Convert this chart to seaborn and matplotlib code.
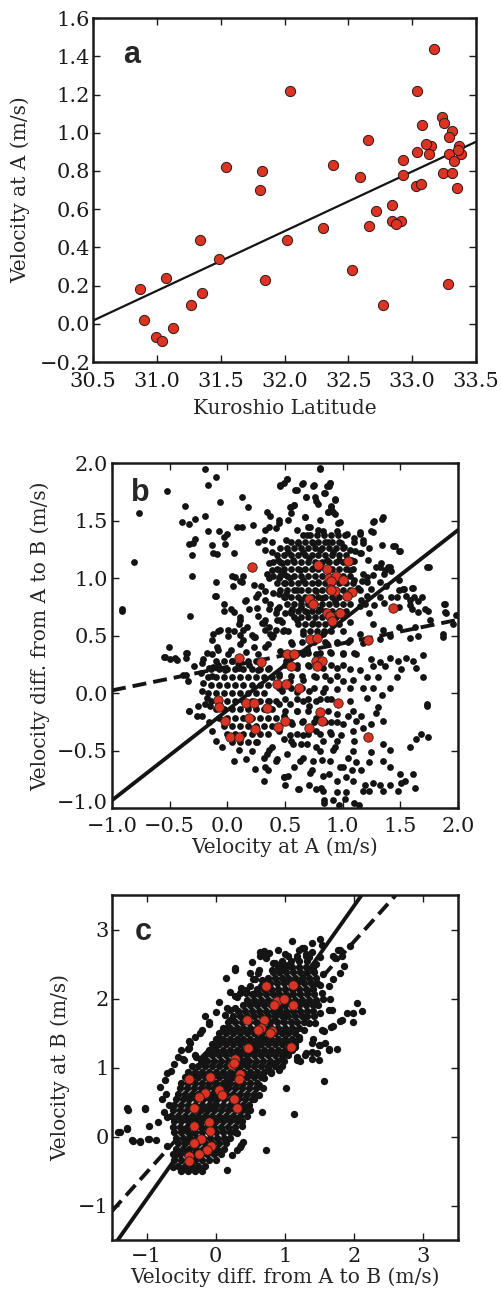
import matplotlib
matplotlib.use("Agg")
import matplotlib.pyplot as plt
import matplotlib.transforms as mtransforms
import seaborn as sns
import pandas as pd

# ---------------- data ----------------
# panel a : Kuroshio latitude vs velocity at A
a_lat = [31.54, 31.82, 31.81, 32.04, 32.38, 32.65, 32.59, 33.17, 33.04, 33.23, 33.25, 33.31,
         33.08, 33.29, 33.37, 33.15, 33.11, 33.04, 33.13, 32.93, 32.93, 33.29, 33.33, 33.38,
         33.36, 33.24, 33.31, 33.03, 33.07, 33.35, 32.84, 32.72, 32.66, 32.84, 32.91, 32.87,
         32.30, 32.02, 31.34, 31.49, 32.53, 31.85, 31.07, 30.87, 31.35, 31.27, 32.77, 33.28,
         30.90, 30.99, 31.04, 31.13]
a_vel = [0.82, 0.80, 0.70, 1.22, 0.83, 0.96, 0.77, 1.44, 1.22, 1.08, 1.05, 1.01,
         1.04, 0.98, 0.93, 0.93, 0.94, 0.90, 0.89, 0.86, 0.78, 0.89, 0.85, 0.89,
         0.91, 0.79, 0.79, 0.72, 0.73, 0.71, 0.62, 0.59, 0.51, 0.54, 0.54, 0.52,
         0.50, 0.44, 0.44, 0.34, 0.28, 0.23, 0.24, 0.18, 0.16, 0.10, 0.10, 0.21,
         0.02, -0.07, -0.09, -0.02]
a_fit_x = [30.5, 33.5]
a_fit_y = [0.017, 0.953]

# panel b : velocity at A vs velocity difference A->B
b_red = [(0.73, 0.78), (1.44, 0.74), (0.86, 0.70), (0.89, 0.67), (0.98, 0.70), (0.91, 0.63),
         (1.22, 0.46), (0.72, 0.47), (0.78, 0.48), (0.10, 0.31), (0.29, 0.27), (0.52, 0.34),
         (0.58, 0.34), (0.55, 0.24), (0.77, 0.28), (0.82, 0.28), (0.78, 0.24), (0.43, 0.08),
         (0.51, 0.08), (0.62, 0.05), (-0.08, -0.06), (-0.07, -0.12), (0.16, -0.08), (0.23, -0.08),
         (0.34, -0.13), (0.96, -0.08), (0.80, -0.16), (-0.02, -0.24), (0.19, -0.21), (0.24, -0.31),
         (0.44, -0.29), (0.50, -0.24), (0.71, -0.30), (0.82, -0.24), (0.02, -0.38), (0.10, -0.38),
         (1.22, -0.38), (0.21, 1.10), (0.79, 1.12), (0.86, 1.08), (1.05, 1.15), (0.88, 1.00),
         (0.94, 1.02), (0.90, 0.98), (1.00, 0.99), (0.89, 0.91), (0.93, 0.89), (0.90, 0.90),
         (1.08, 0.88), (1.04, 0.85), (0.71, 0.82), (0.74, 0.78)]

b_black_pts = [
    (-0.19, 1.95), (-0.10, 1.88), (-0.17, 1.81), (-0.52, 1.76), (-0.77, 1.57), (-0.37, 1.63),
    (-0.06, 1.66), (0.13, 1.71), (0.18, 1.62), (-0.39, 1.49), (-0.33, 1.47), (-0.28, 1.52),
    (-0.19, 1.54), (0.08, 1.45), (0.22, 1.46), (-0.17, 1.41), (-0.07, 1.41), (0.00, 1.39),
    (-0.03, 1.36), (-0.28, 1.34), (-0.30, 1.31), (-0.33, 1.30), (-0.13, 1.29), (-0.02, 1.30),
    (-0.12, 1.22), (-0.09, 1.21), (-0.31, 1.20), (0.06, 1.22), (-0.81, 1.14), (-0.31, 1.02),
    (-0.10, 0.97), (0.04, 1.02), (0.11, 0.98), (0.14, 1.02), (-0.11, 0.85), (-0.91, 0.73),
    (-0.32, 0.67), (-0.03, 0.78), (0.03, 0.73), (-0.03, 0.72), (0.15, 0.80), (0.19, 0.73),
    (0.25, 0.84), (0.26, 0.74), (-0.08, 0.54), (0.01, 0.55), (0.10, 0.60), (0.14, 0.55),
    (0.11, 0.51), (0.21, 0.51), (0.27, 0.67), (0.33, 0.64), (0.36, 0.73), (0.42, 0.70),
    (0.42, 0.55), (0.46, 0.64), (0.33, 0.55),
    (0.34, 1.58), (0.37, 1.54), (0.45, 1.48), (0.36, 1.45), (0.42, 1.44), (0.33, 1.42),
    (0.27, 1.32), (0.32, 1.33), (0.39, 1.32), (0.33, 1.25), (0.39, 1.23), (0.44, 1.16),
    (0.47, 1.13), (0.36, 1.13), (0.34, 1.04), (0.39, 1.07), (0.45, 1.07), (0.49, 1.04),
    (0.36, 1.00), (0.45, 1.00), (0.50, 0.96), (0.29, 0.93), (0.27, 0.86), (0.33, 0.89),
    (0.40, 0.87), (0.45, 0.86), (0.50, 0.84), (0.33, 0.81), (0.37, 0.78), (0.43, 0.73),
    (0.50, 0.70), (0.30, 0.61), (0.36, 0.58), (0.40, 0.51), (0.47, 0.62), (0.49, 0.55),
    (0.46, 1.80), (0.49, 1.83),
    (0.80, 1.95), (0.52, 1.86), (0.46, 1.81), (0.60, 1.77), (0.66, 1.83), (0.75, 1.81),
    (0.89, 1.83), (0.88, 1.80), (0.85, 1.74), (0.93, 1.68), (0.68, 1.71), (0.77, 1.67),
    (0.55, 1.62), (0.58, 1.64), (0.55, 1.57), (0.90, 1.63), (0.91, 1.59), (0.93, 1.56),
    (0.87, 1.58), (0.98, 1.49), (0.67, 1.53), (0.45, 1.51), (0.72, 1.45), (0.79, 1.42),
    (1.27, 1.50), (1.35, 1.53), (1.26, 1.40), (1.15, 1.40), (1.10, 1.35), (1.18, 1.33),
    (1.04, 1.39), (1.45, 1.28), (1.50, 1.24), (1.75, 1.10), (1.33, 1.13), (1.39, 1.10),
    (1.29, 1.10), (1.36, 1.04), (1.42, 1.06), (1.53, 0.91), (1.61, 0.92), (1.49, 0.90),
    (1.55, 0.85), (1.62, 0.84), (1.69, 0.84), (1.88, 0.78), (1.90, 0.70), (1.98, 0.68),
    (1.74, 0.72), (1.65, 0.71), (1.58, 0.77), (1.49, 0.75), (1.21, 1.01), (1.17, 0.98),
    (1.13, 0.92), (1.21, 0.85), (1.19, 0.78), (1.27, 0.77), (1.36, 0.79), (1.42, 0.84),
    (1.16, 1.22), (1.23, 1.26), (1.11, 1.24), (1.01, 1.27), (1.07, 1.16), (0.13, 1.45),
    (0.07, 1.01), (0.13, 0.97), (0.05, 0.93), (-0.10, 0.85), (0.16, 0.81), (0.23, 0.94),
    (0.06, 0.71), (0.11, 0.66),
    (0.80, 1.96), (0.52, 1.86), (0.59, 1.77), (0.65, 1.82), (0.74, 1.80), (0.86, 1.80),
    (0.89, 1.83), (0.68, 1.71), (0.76, 1.71), (0.84, 1.74), (0.93, 1.69), (0.79, 1.65),
    (0.54, 1.62), (0.58, 1.64), (0.90, 1.62), (0.92, 1.58), (0.87, 1.58), (0.67, 1.53),
    (0.80, 1.51), (0.96, 1.48), (1.26, 1.49), (1.34, 1.52), (0.53, 1.51), (0.60, 1.42),
    (0.70, 1.45), (0.69, 1.38), (0.83, 1.41), (0.95, 1.41), (1.02, 1.38), (1.15, 1.39),
    (1.25, 1.41), (0.51, 1.33), (0.61, 1.31), (0.74, 1.31), (0.87, 1.32), (0.99, 1.31),
    (1.10, 1.32), (1.18, 1.31), (1.34, 1.29), (1.44, 1.28), (1.49, 1.24), (0.53, 1.23),
    (0.66, 1.23), (0.80, 1.25), (0.92, 1.23), (1.06, 1.25), (1.15, 1.22), (1.22, 1.16),
    (0.57, 1.16), (0.71, 1.18), (0.86, 1.16), (0.97, 1.16), (1.10, 1.15), (1.32, 1.10),
    (1.41, 1.10), (1.37, 1.07), (1.73, 1.10), (0.48, 1.07), (0.63, 1.07), (0.74, 1.09),
    (1.06, 1.07), (1.18, 1.04), (1.26, 1.03), (0.54, 1.00), (0.66, 0.99), (0.79, 0.97),
    (1.10, 0.99), (1.21, 0.97), (1.32, 0.97), (1.49, 0.99), (1.38, 0.93), (0.60, 0.90),
    (0.77, 0.89), (1.15, 0.90), (1.25, 0.91), (1.52, 0.91), (1.60, 0.92), (0.51, 0.86),
    (0.64, 0.81), (0.82, 0.83), (0.93, 0.80), (1.16, 0.81), (1.32, 0.84), (1.47, 0.84),
    (1.58, 0.81), (1.65, 0.80), (1.89, 0.78), (0.56, 0.73), (0.69, 0.71), (0.80, 0.73),
    (1.15, 0.76), (1.23, 0.70), (1.60, 0.73), (1.71, 0.73), (1.89, 0.71), (0.60, 0.64),
    (0.74, 0.61), (0.92, 0.62), (1.06, 0.62), (1.26, 0.60), (1.49, 0.58), (1.63, 0.58),
    (1.76, 0.64), (1.96, 0.60), (0.53, 0.54), (0.66, 0.52), (0.83, 0.52), (1.00, 0.54),
    (1.15, 0.52), (1.35, 0.55), (1.87, 0.52),
    (-0.51, 0.40), (-0.54, 0.32), (-0.45, 0.31), (-0.36, 0.31), (-0.36, 0.35), (-0.29, 0.24),
    (-0.38, 0.16), (-0.23, 0.18), (-0.34, 0.11), (-0.21, 0.09), (-0.13, 0.15), (-0.22, 0.02),
    (-0.25, -0.11), (-0.26, -0.20), (-0.22, -0.20), (-0.33, -0.15), (-0.18, -0.04), (-0.15, -0.11),
    (-0.16, -0.25), (-0.13, -0.33), (-0.10, -0.41), (-0.05, -0.47), (0.06, -0.59), (0.16, -0.57),
    (0.24, -0.66), (0.32, -0.76), (0.49, -0.73), (0.33, -0.64), (0.34, -0.53), (0.42, -0.59),
    (-0.13, 0.46), (-0.08, 0.38), (0.01, 0.50), (0.14, 0.46), (0.24, 0.49), (0.33, 0.40),
    (0.39, 0.49), (0.46, 0.37), (-0.16, 0.22), (-0.08, 0.25), (-0.02, 0.20), (0.04, 0.28),
    (0.10, 0.22), (0.19, 0.25), (0.27, 0.20), (0.36, 0.22), (0.45, 0.17), (0.47, 0.02),
    (0.36, -0.07), (0.45, -0.09), (-0.19, -0.09), (0.49, -0.20), (0.45, -0.33), (0.49, -0.40),
    (0.10, -0.49), (0.21, -0.50), (0.36, -0.49), (0.01, 0.34), (0.16, 0.36), (0.27, 0.34),
    (-0.21, 0.30), (-0.13, 0.34), (-0.55, 0.32), (-0.50, 0.30), (-0.44, 0.29), (-0.36, 0.16),
    (-0.33, -0.15), (-0.12, 0.52), (-0.06, 0.55), (0.06, 0.54), (0.11, 0.64), (0.17, 0.58),
    (0.23, 0.49), (0.32, 0.61), (0.37, 0.52), (0.43, 0.64), (0.48, 0.54), (0.35, 0.43),
    (0.23, 0.40), (0.11, 0.43), (0.03, 0.38), (-0.09, 0.40), (-0.18, 0.35), (-0.22, 0.26),
    (-0.12, 0.23), (0.45, 0.75), (0.55, 0.70), (0.64, 0.75),
    (1.58, 0.48), (1.65, 0.50), (1.87, 0.49), (1.70, 0.33), (1.61, 0.28), (1.55, 0.31),
    (1.48, 0.28), (1.41, 0.31), (1.51, 0.21), (1.64, 0.22), (1.70, 0.14), (1.32, 0.27),
    (1.26, 0.24), (1.37, 0.24), (1.31, 0.14), (1.47, 0.14), (1.41, 0.05), (1.34, -0.01),
    (1.26, 0.05), (1.18, 0.05), (1.21, -0.04), (1.73, -0.09), (1.73, -0.11), (1.31, -0.12),
    (1.29, -0.17), (1.35, -0.24), (1.25, -0.27), (1.18, -0.30), (1.12, -0.24), (1.16, -0.20),
    (1.09, -0.15), (1.05, -0.20), (1.68, -0.35), (1.74, -0.38), (1.64, -0.40), (1.58, -0.47),
    (1.35, -0.44), (1.41, -0.49), (1.25, -0.51), (1.10, -0.41), (1.09, -0.50), (1.05, -0.56),
    (1.12, -0.60), (1.23, -0.60), (1.35, -0.59), (1.41, -0.64), (1.16, -0.67), (1.08, -0.67),
    (1.00, -0.64), (1.03, -0.73), (1.09, -0.76), (1.19, -0.80), (1.26, -0.78), (1.18, -0.85),
    (1.23, -0.85), (1.32, -0.80), (1.35, -0.85), (1.41, -0.80), (1.50, -0.70), (1.51, -0.78),
    (1.54, -0.76), (1.61, -0.70), (1.63, -0.82), (1.48, -0.85), (0.95, -0.76), (0.83, -0.72),
    (0.77, -0.83), (0.73, -0.67), (0.61, -0.83), (0.71, -0.80), (0.84, -0.93), (0.92, -0.93),
    (1.02, -0.92), (1.03, -0.86), (1.10, -0.95), (0.83, -0.85), (0.53, -0.72), (0.50, -0.80),
    (0.63, -0.59), (0.74, -0.59), (0.89, -0.59), (0.80, -0.50), (0.92, -0.49), (0.69, -0.44),
    (0.57, -0.44), (0.83, -0.41), (0.95, -0.41), (0.66, -0.36), (0.77, -0.33), (0.89, -0.34),
    (0.99, -0.36), (0.54, -0.36), (0.56, -0.27), (0.66, -0.24), (0.77, -0.21), (0.90, -0.25),
    (1.00, -0.27), (1.09, -0.33), (0.60, -0.15), (0.71, -0.11), (0.87, -0.15), (0.95, -0.18),
    (0.54, -0.09), (0.66, -0.07), (0.77, -0.07), (0.86, -0.05), (1.06, -0.07), (0.60, 0.01),
    (0.71, 0.02), (0.83, 0.01), (0.95, 0.04), (1.06, 0.05), (1.09, 0.12), (1.00, 0.11),
    (0.54, 0.11), (0.66, 0.12), (0.77, 0.14), (0.89, 0.12), (1.21, 0.14), (1.15, 0.20),
    (1.06, 0.21), (0.95, 0.22), (0.83, 0.22), (0.71, 0.24), (0.60, 0.22), (0.51, 0.28),
    (0.66, 0.34), (0.77, 0.34), (0.89, 0.36), (1.00, 0.34), (1.12, 0.34), (1.25, 0.30),
    (0.95, 0.44), (1.06, 0.46), (1.18, 0.44), (1.32, 0.47), (1.41, 0.50), (0.74, 0.46),
    (0.86, 0.43), (0.56, 0.43), (0.84, -0.95), (0.97, -0.97), (1.14, -0.97),
    (0.32, -0.56), (0.35, -0.67), (0.43, -0.57), (0.49, -0.73), (0.52, -0.53), (0.58, -0.64),
    (0.62, -0.83), (0.66, -0.56), (0.72, -0.69), (0.77, -0.47), (0.81, -0.82), (0.82, -0.58),
    (0.88, -0.70), (0.93, -0.47), (0.95, -0.86), (0.98, -0.64), (0.26, -0.42), (0.39, -0.47),
    (0.55, -0.41), (0.64, -0.44), (-0.91, 0.72), (-0.35, 0.35),
]

b_core_rows = [
    (1.38, [0.66, 0.72, 0.78, 0.84, 0.90, 0.96]),
    (1.32, [0.55, 0.61, 0.67, 0.73, 0.79, 0.85, 0.91, 0.97]),
    (1.26, [0.46, 0.52, 0.58, 0.64, 0.70, 0.76, 0.82, 0.88, 0.94, 1.00]),
    (1.20, [0.43, 0.49, 0.55, 0.61, 0.67, 0.73, 0.79, 0.85, 0.91, 0.97, 1.03]),
    (1.14, [0.40, 0.46, 0.52, 0.58, 0.64, 0.70, 0.76, 0.82, 0.88, 0.94, 1.00, 1.06]),
    (1.08, [0.43, 0.49, 0.55, 0.61, 0.67, 0.73, 0.79, 0.85, 0.91, 0.97, 1.03, 1.09]),
    (1.02, [0.40, 0.46, 0.52, 0.58, 0.64, 0.70, 0.76, 0.82, 0.88, 0.94, 1.00, 1.06]),
    (0.96, [0.43, 0.49, 0.55, 0.61, 0.67, 0.73, 0.79, 0.85, 0.91, 0.97, 1.03, 1.09]),
    (0.90, [0.46, 0.52, 0.58, 0.64, 0.70, 0.76, 0.82, 0.88, 0.94, 1.00, 1.06]),
    (0.84, [0.49, 0.55, 0.61, 0.67, 0.73, 0.79, 0.85, 0.91, 0.97, 1.03]),
    (0.78, [0.52, 0.58, 0.64, 0.70, 0.76, 0.82, 0.88, 0.94, 1.00, 1.06]),
    (0.72, [0.55, 0.61, 0.67, 0.73, 0.79, 0.85, 0.91, 0.97, 1.03]),
    (0.66, [0.58, 0.64, 0.70, 0.76, 0.82, 0.88, 0.94, 1.00]),
    (0.60, [0.61, 0.67, 0.73, 0.79, 0.85, 0.91, 0.97]),
    (0.54, [0.66, 0.72, 0.78, 0.84, 0.90]),
    (0.28, [-0.10, -0.03, 0.04, 0.11, 0.18, 0.25]),
    (0.21, [-0.14, -0.07, 0.00, 0.07, 0.14, 0.21, 0.28, 0.35]),
    (0.14, [-0.17, -0.10, -0.03, 0.04, 0.11, 0.18, 0.25, 0.32, 0.39]),
    (0.07, [-0.14, -0.07, 0.00, 0.07, 0.14, 0.21, 0.28, 0.35]),
    (0.00, [-0.17, -0.10, -0.03, 0.04, 0.11, 0.18, 0.25, 0.32]),
    (-0.07, [-0.14, -0.07, 0.00, 0.07, 0.14, 0.21, 0.28, 0.35, 0.42]),
    (-0.14, [-0.10, -0.03, 0.04, 0.11, 0.18, 0.25, 0.32, 0.39]),
    (-0.21, [-0.07, 0.00, 0.07, 0.14, 0.21, 0.28, 0.35, 0.42]),
    (-0.28, [-0.03, 0.04, 0.11, 0.18, 0.25, 0.32, 0.39]),
    (-0.35, [0.00, 0.07, 0.14, 0.21, 0.28, 0.35]),
    (-0.42, [0.04, 0.11, 0.18, 0.25]),
    (0.45, [0.55, 0.65, 0.75, 0.85, 0.95, 1.05]),
    (0.35, [0.50, 0.60, 0.70, 0.80, 0.90, 1.00, 1.10]),
    (0.25, [0.50, 0.60, 0.70, 0.80, 0.90, 1.00]),
    (0.15, [0.45, 0.55, 0.65, 0.75, 0.85, 0.95]),
    (0.05, [0.45, 0.55, 0.65, 0.75, 0.85]),
    (-0.05, [0.50, 0.60, 0.70, 0.80, 0.90]),
    (-0.15, [0.50, 0.60, 0.70, 0.80]),
    (-0.25, [0.55, 0.65, 0.75, 0.85, 0.95]),
    (-0.35, [0.60, 0.70, 0.80, 0.90]),
]
b_solid_x = [-1.0, 2.0]
b_solid_y = [-0.93, 1.42]
b_dash_x = [-1.0, 2.0]
b_dash_y = [0.026, 0.64]

# panel c : velocity difference A->B vs velocity at B
c_red = [(0.73, 2.18), (1.12, 2.20), (0.88, 1.96), (0.84, 1.90), (0.98, 2.00), (1.11, 1.91),
         (0.45, 1.69), (0.70, 1.69), (0.65, 1.57), (0.61, 1.54), (0.81, 1.53), (0.78, 1.50),
         (1.09, 1.30), (0.46, 1.28), (0.28, 1.12), (0.24, 1.04), (0.27, 1.07), (0.35, 0.90),
         (0.33, 0.84), (-0.38, 0.84), (-0.09, 0.87), (0.04, 0.67), (0.09, 0.60), (0.26, 0.55),
         (0.31, 0.42), (-0.15, 0.63), (-0.24, 0.58), (-0.31, 0.41), (-0.10, 0.21), (-0.09, 0.08),
         (-0.31, 0.16), (-0.22, -0.03), (-0.32, -0.09), (-0.07, -0.14), (-0.12, -0.19),
         (-0.24, -0.26), (-0.38, -0.28), (-0.38, -0.36)]

c_black_pts = [
    (1.10, 2.84), (1.27, 2.73), (1.39, 2.67), (1.51, 2.87), (1.54, 2.78), (1.70, 2.62),
    (1.80, 2.70), (0.69, 2.67), (0.77, 2.66), (0.52, 2.53), (0.64, 2.61), (0.86, 2.51),
    (0.96, 2.53), (1.05, 2.49), (0.81, 2.41), (0.62, 2.41), (0.28, 2.42), (0.49, 2.37),
    (0.57, 2.29), (0.67, 2.27), (0.36, 2.15), (0.57, 2.08), (0.43, 2.08), (0.31, 2.02),
    (-0.10, 1.63), (0.16, 1.86), (0.28, 1.87), (0.14, 1.76), (0.21, 1.69), (-0.37, 1.35),
    (-0.39, 1.28), (-0.01, 1.30), (1.68, 1.83), (1.82, 1.69), (1.66, 1.59), (1.54, 1.54),
    (1.39, 1.35), (1.49, 1.33), (1.58, 1.35),
    (1.39, 2.81), (1.94, 2.76), (1.77, 2.70), (1.82, 2.61), (1.73, 2.59), (1.85, 2.47),
    (1.80, 2.37), (1.70, 2.28), (1.63, 2.18), (1.53, 2.08), (1.65, 1.99), (2.04, 1.94),
    (2.11, 1.82), (1.99, 1.79), (1.89, 1.79), (1.80, 1.67), (1.99, 1.66), (1.70, 1.60),
    (1.63, 1.83), (1.51, 1.79), (1.44, 1.65), (1.56, 1.53), (1.75, 1.27), (1.63, 1.27),
    (1.51, 1.33), (1.41, 1.41), (1.31, 1.21), (1.17, 1.16), (1.22, 1.09), (1.39, 1.12),
    (1.46, 1.21), (0.28, 2.44), (0.50, 2.18), (0.61, 2.37), (-0.10, 1.66), (-0.23, 1.50),
    (-0.38, 1.38), (-0.40, 1.27), (-0.48, 1.13), (-0.28, 1.16), (-0.13, 1.21), (0.03, 1.43),
    (0.16, 1.58), (0.20, 1.84), (0.28, 2.03), (0.35, 2.08), (0.44, 2.13), (0.54, 2.28),
    (0.66, 2.18), (0.73, 2.59), (0.64, 2.67), (0.69, 2.69), (0.83, 2.52), (0.98, 2.49),
    (0.93, 2.40), (1.07, 2.47), (1.17, 2.59), (1.24, 2.73), (1.31, 2.64), (1.41, 2.44),
    (-1.28, 0.41), (-1.02, 0.41), (-1.38, 0.07), (-1.28, 0.12), (-1.21, -0.05), (-1.09, -0.08),
    (-0.97, -0.03), (-0.87, -0.05), (-0.97, 0.16), (-0.83, 0.21), (-0.71, 0.92), (-0.46, 1.11),
    (-0.30, 1.18), (-0.18, 1.16), (-0.73, 0.82), (1.13, 0.32), (0.72, -0.20), (0.67, 0.35),
    (1.01, 0.70), (0.62, 0.75), (1.56, 0.80), (1.17, 1.11), (1.29, 1.18), (1.39, 1.23),
    (1.49, 1.11), (1.63, 1.25), (0.91, 0.96), (0.76, 1.01), (0.36, -0.12), (0.40, -0.08),
    (0.23, -0.27), (0.16, -0.49), (-1.42, 0.06), (-1.29, 0.11), (-1.27, 0.38), (-1.03, 0.40),
    (-1.20, -0.06), (-1.10, -0.06), (-0.98, -0.03), (-0.71, -0.13), (-0.62, -0.44), (-0.50, -0.49),
    (0.35, -0.15), (0.30, -0.20),
    (-0.78, 0.55), (-0.72, 0.62), (-0.80, 0.72), (-0.68, 0.45), (-0.75, 0.35), (-0.70, 0.28),
    (0.30, 0.05), (0.38, 0.15), (0.45, 0.30), (0.50, 0.38), (0.55, 0.55), (0.62, 0.60),
    (0.68, 0.70), (0.70, 0.85), (0.80, 0.92), (0.85, 1.05), (0.95, 1.12), (1.05, 1.25),
    (1.15, 1.30), (1.20, 1.45), (1.28, 1.55), (1.35, 1.65), (1.42, 1.75), (1.48, 1.90),
    (1.55, 2.00), (1.50, 2.20), (1.55, 2.35), (1.45, 2.50), (1.50, 2.60), (1.35, 2.60),
    (1.20, 2.70), (1.00, 2.65), (0.90, 2.70), (0.15, 2.30), (0.20, 2.10), (0.05, 1.95),
    (0.00, 1.80), (-0.15, 1.75), (-0.20, 1.55), (-0.30, 1.45), (-0.50, 1.25), (-0.60, 1.05),
    (-0.65, 0.95), (-0.55, 1.15),
]

c_core_rows = [
    (-0.50, [-0.50, -0.40, -0.30, -0.20]),
    (-0.42, [-0.55, -0.45, -0.35, -0.25, -0.15]),
    (-0.34, [-0.60, -0.50, -0.40, -0.30, -0.20, -0.10, 0.00]),
    (-0.26, [-0.62, -0.52, -0.42, -0.32, -0.22, -0.12, -0.02, 0.08]),
    (-0.18, [-0.58, -0.48, -0.38, -0.28, -0.18, -0.08, 0.02, 0.12]),
    (-0.10, [-0.55, -0.45, -0.35, -0.25, -0.15, -0.05, 0.05, 0.15]),
    (-0.02, [-0.58, -0.48, -0.38, -0.28, -0.18, -0.08, 0.02, 0.12, 0.20]),
    (0.06, [-0.60, -0.50, -0.40, -0.30, -0.20, -0.10, 0.00, 0.10, 0.20, 0.28]),
    (0.14, [-0.62, -0.52, -0.42, -0.32, -0.22, -0.12, -0.02, 0.08, 0.18, 0.28]),
    (0.22, [-0.60, -0.50, -0.40, -0.30, -0.20, -0.10, 0.00, 0.10, 0.20, 0.30, 0.38]),
    (0.30, [-0.65, -0.55, -0.45, -0.35, -0.25, -0.15, -0.05, 0.05, 0.15, 0.25, 0.35]),
    (0.38, [-0.62, -0.52, -0.42, -0.32, -0.22, -0.12, -0.02, 0.08, 0.18, 0.28, 0.38, 0.45]),
    (0.46, [-0.60, -0.50, -0.40, -0.30, -0.20, -0.10, 0.00, 0.10, 0.20, 0.30, 0.40, 0.48]),
    (0.54, [-0.58, -0.48, -0.38, -0.28, -0.18, -0.08, 0.02, 0.12, 0.22, 0.32, 0.42, 0.52]),
    (0.62, [-0.55, -0.45, -0.35, -0.25, -0.15, -0.05, 0.05, 0.15, 0.25, 0.35, 0.45, 0.55]),
    (0.70, [-0.52, -0.42, -0.32, -0.22, -0.12, -0.02, 0.08, 0.18, 0.28, 0.38, 0.48, 0.58]),
    (0.78, [-0.50, -0.40, -0.30, -0.20, -0.10, 0.00, 0.10, 0.20, 0.30, 0.40, 0.50, 0.60]),
    (0.86, [-0.45, -0.35, -0.25, -0.15, -0.05, 0.05, 0.15, 0.25, 0.35, 0.45, 0.55, 0.65]),
    (0.94, [-0.40, -0.30, -0.20, -0.10, 0.00, 0.10, 0.20, 0.30, 0.40, 0.50, 0.60, 0.70, 0.80]),
    (1.02, [-0.35, -0.25, -0.15, -0.05, 0.05, 0.15, 0.25, 0.35, 0.45, 0.55, 0.65, 0.75, 0.85, 0.95]),
    (1.10, [-0.22, -0.12, -0.02, 0.08, 0.18, 0.28, 0.38, 0.48, 0.58, 0.68, 0.78, 0.88, 0.98]),
    (1.18, [-0.15, -0.05, 0.05, 0.15, 0.25, 0.35, 0.45, 0.55, 0.65, 0.75, 0.85, 0.95, 1.05]),
    (1.26, [-0.10, 0.00, 0.10, 0.20, 0.30, 0.40, 0.50, 0.60, 0.70, 0.80, 0.90, 1.00, 1.10]),
    (1.34, [-0.05, 0.05, 0.15, 0.25, 0.35, 0.45, 0.55, 0.65, 0.75, 0.85, 0.95, 1.05, 1.15]),
    (1.42, [0.00, 0.10, 0.20, 0.30, 0.40, 0.50, 0.60, 0.70, 0.80, 0.90, 1.00, 1.10, 1.20]),
    (1.50, [0.05, 0.15, 0.25, 0.35, 0.45, 0.55, 0.65, 0.75, 0.85, 0.95, 1.05, 1.15]),
    (1.58, [0.10, 0.20, 0.30, 0.40, 0.50, 0.60, 0.70, 0.80, 0.90, 1.00, 1.10, 1.20]),
    (1.66, [0.18, 0.28, 0.38, 0.48, 0.58, 0.68, 0.78, 0.88, 0.98, 1.08, 1.18, 1.28]),
    (1.74, [0.25, 0.35, 0.45, 0.55, 0.65, 0.75, 0.85, 0.95, 1.05, 1.15, 1.25, 1.32]),
    (1.82, [0.32, 0.42, 0.52, 0.62, 0.72, 0.82, 0.92, 1.02, 1.12, 1.22, 1.32, 1.40]),
    (1.90, [0.40, 0.50, 0.60, 0.70, 0.80, 0.90, 1.00, 1.10, 1.20, 1.30, 1.40]),
    (1.98, [0.45, 0.55, 0.65, 0.75, 0.85, 0.95, 1.05, 1.15, 1.25, 1.35, 1.45]),
    (2.06, [0.52, 0.62, 0.72, 0.82, 0.92, 1.02, 1.12, 1.22, 1.32, 1.42]),
    (2.14, [0.60, 0.70, 0.80, 0.90, 1.00, 1.10, 1.20, 1.30, 1.40]),
    (2.22, [0.68, 0.78, 0.88, 0.98, 1.08, 1.18, 1.28, 1.38, 1.46]),
    (2.30, [0.75, 0.85, 0.95, 1.05, 1.15, 1.25, 1.35, 1.45]),
    (2.38, [0.82, 0.92, 1.02, 1.12, 1.22, 1.32, 1.42]),
    (2.46, [0.90, 1.00, 1.10, 1.20, 1.30, 1.40]),
    (2.54, [0.95, 1.08, 1.20, 1.32]),
    (2.62, [1.05, 1.18, 1.30]),
]
c_solid_x = [-1.6, 2.2]
c_solid_y = [-1.76, 3.63]
c_dash_x = [-1.5, 2.7]
c_dash_y = [-1.08, 3.61]

a_xticks = [30.5, 31.0, 31.5, 32.0, 32.5, 33.0, 33.5]
a_yticks = [-0.2, 0.0, 0.2, 0.4, 0.6, 0.8, 1.0, 1.2, 1.4, 1.6]
b_ticks = [-1.0, -0.5, 0.0, 0.5, 1.0, 1.5, 2.0]
c_ticks = [-1, 0, 1, 2, 3]


# ---------------- helpers ----------------
def pts_frame(pts, rows=()):
    xs = [p[0] for p in pts] + [x for y, xl in rows for x in xl]
    ys = [p[1] for p in pts] + [y for y, xl in rows for x in xl]
    return pd.DataFrame({"x": xs, "y": ys})


sns.set_style("ticks")
plt.rcParams['font.family'] = ['DejaVu Serif']
plt.rcParams['axes.unicode_minus'] = True

RED = '#dd3322'
BLACK = '#141414'
LETTER_FONT = ['Liberation Sans', 'DejaVu Sans']
TICK_FS = 15
LABEL_FS = 14.5

fig = plt.figure(figsize=(5.02, 12.94), dpi=100)
ax_a = fig.add_axes([0.1853, 0.7202, 0.763, 0.2658])
ax_b = fig.add_axes([0.2231, 0.3753, 0.6892, 0.2666])
ax_c = fig.add_axes([0.2231, 0.0417, 0.6892, 0.2666])


def style(ax, xpad, ypad):
    for s in ax.spines.values():
        s.set_linewidth(1.8)
        s.set_color('#1a1a1a')
    ax.tick_params(direction='in', top=True, right=True, length=5, width=1.0,
                   labelsize=TICK_FS, colors='#1a1a1a')
    ax.tick_params(axis='x', pad=xpad)
    ax.tick_params(axis='y', pad=ypad)


# ---- panel a ----
df_a = pd.DataFrame({"lat": a_lat, "vel": a_vel})
sns.lineplot(x=a_fit_x, y=a_fit_y, ax=ax_a, color=BLACK, lw=1.6, zorder=2)
sns.scatterplot(data=df_a, x="lat", y="vel", ax=ax_a, color=RED, s=54,
                edgecolor='#2a1a1a', linewidth=0.7, zorder=3)
ax_a.set_xlim(30.5, 33.5)
ax_a.set_ylim(-0.2, 1.6)
ax_a.set_xticks(a_xticks)
ax_a.set_yticks(a_yticks)
ax_a.set_xticklabels([f"{t:.1f}" for t in a_xticks])
ax_a.set_yticklabels([f"{t:.1f}".replace('-', '\u2212') for t in a_yticks])
style(ax_a, 7, 2)
ax_a.set_xlabel("Kuroshio Latitude", fontsize=LABEL_FS)
ax_a.set_ylabel("Velocity at A (m/s)", fontsize=LABEL_FS)
ax_a.xaxis.set_label_coords(0.5, -0.108)
ax_a.yaxis.set_label_coords(-0.164, 0.5)
ax_a.text(0.078, 0.869, "a", transform=ax_a.transAxes, fontsize=22,
          fontweight='bold', family=LETTER_FONT, va='baseline', ha='left')

# ---- panel b ----
df_b = pts_frame(b_black_pts, b_core_rows)
df_b_red = pts_frame(b_red)
sns.scatterplot(data=df_b, x="x", y="y", ax=ax_b, color=BLACK, s=24,
                linewidth=0, zorder=1)
sns.lineplot(x=b_solid_x, y=b_solid_y, ax=ax_b, color=BLACK, lw=2.8, zorder=2)
sns.lineplot(x=b_dash_x, y=b_dash_y, ax=ax_b, color=BLACK, lw=2.8, zorder=2,
             linestyle=(0, (3.6, 1.8)))
sns.scatterplot(data=df_b_red, x="x", y="y", ax=ax_b, color=RED, s=46,
                edgecolor='#2a1a1a', linewidth=0.6, zorder=3)
ax_b.set_xlim(-1, 2)
ax_b.set_ylim(-1, 2)
ax_b.set_xticks(b_ticks)
ax_b.set_yticks(b_ticks)
ax_b.set_xticklabels([f"{t:.1f}".replace('-', '\u2212') for t in b_ticks])
ax_b.set_yticklabels([f"{t:.1f}".replace('-', '\u2212') for t in b_ticks])
style(ax_b, 6, 3)
ax_b.set_xlabel("Velocity at A (m/s)", fontsize=LABEL_FS)
ax_b.set_ylabel("Velocity diff. from A to B (m/s)", fontsize=LABEL_FS)
ax_b.xaxis.set_label_coords(0.5, -0.085)
ax_b.yaxis.set_label_coords(-0.179, 0.5)
ax_b.text(0.055, 0.891, "b", transform=ax_b.transAxes, fontsize=22,
          fontweight='bold', family=LETTER_FONT, va='baseline', ha='left')
# lift the lowest y tick label a little so it clears the x tick label below it
_lowest = ax_b.yaxis.get_major_ticks()[0].label1
_lowest.set_transform(_lowest.get_transform() +
                      mtransforms.ScaledTranslation(0, 0.07, fig.dpi_scale_trans))

# ---- panel c ----
df_c = pts_frame(c_black_pts, c_core_rows)
df_c_red = pts_frame(c_red)
sns.scatterplot(data=df_c, x="x", y="y", ax=ax_c, color=BLACK, s=28,
                linewidth=0, zorder=1)
sns.lineplot(x=c_solid_x, y=c_solid_y, ax=ax_c, color=BLACK, lw=2.8, zorder=2)
sns.lineplot(x=c_dash_x, y=c_dash_y, ax=ax_c, color=BLACK, lw=2.8, zorder=2,
             linestyle=(0, (3.6, 1.8)))
sns.scatterplot(data=df_c_red, x="x", y="y", ax=ax_c, color=RED, s=46,
                edgecolor='#2a1a1a', linewidth=0.6, zorder=3)
ax_c.set_xlim(-1.5, 3.5)
ax_c.set_ylim(-1.5, 3.5)
ax_c.set_xticks(c_ticks)
ax_c.set_yticks(c_ticks)
ax_c.set_xticklabels([str(t).replace('-', '\u2212') for t in c_ticks])
ax_c.set_yticklabels([str(t).replace('-', '\u2212') for t in c_ticks])
style(ax_c, 5, 2.5)
ax_c.set_xlabel("Velocity diff. from A to B (m/s)", fontsize=LABEL_FS)
ax_c.set_ylabel("Velocity at B (m/s)", fontsize=LABEL_FS)
ax_c.xaxis.set_label_coords(0.5, -0.080)
ax_c.yaxis.set_label_coords(-0.121, 0.5)
ax_c.text(0.066, 0.87, "c", transform=ax_c.transAxes, fontsize=22,
          fontweight='bold', family=LETTER_FONT, va='baseline', ha='left')

for ax in (ax_a, ax_b, ax_c):
    if ax.get_legend() is not None:
        ax.get_legend().remove()

fig.savefig("out.png", dpi=100)
